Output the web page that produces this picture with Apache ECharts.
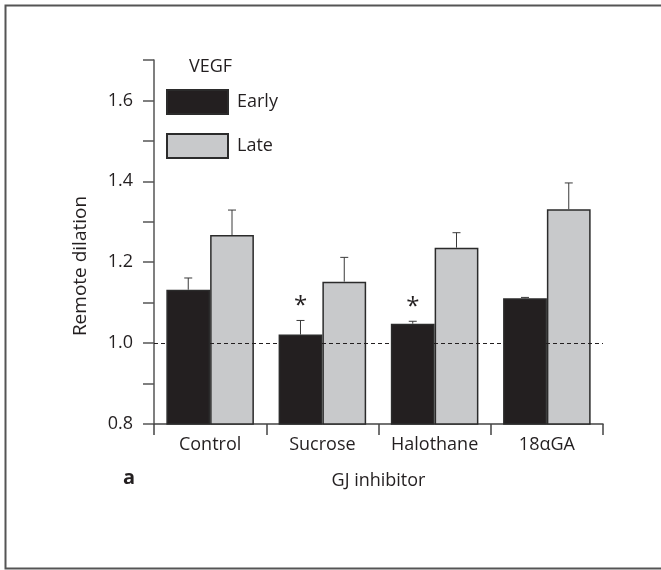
<!DOCTYPE html>
<html>
<head>
<meta charset="utf-8">
<script src="https://cdn.jsdelivr.net/npm/echarts@6/dist/echarts.min.js"></script>
<style>
html,body{margin:0;padding:0;background:#fff;}
#chart{width:661px;height:570px;}
</style>
</head>
<body>
<div id="chart"></div>
<script>
const categories = ['Control', 'Sucrose', 'Halothane', '18\u03b1GA'];
const earlyValues = [1.132, 1.021, 1.048, 1.111];
const earlyErrTop = [1.161, 1.056, 1.054, 1.113];
const lateValues = [1.267, 1.152, 1.236, 1.331];
const lateErrTop = [1.329, 1.212, 1.273, 1.396];
const earlySig = ['', '*', '*', ''];
const lateSig = ['', '', '', ''];
const yTicks = [0.8, 1.0, 1.2, 1.4, 1.6];
const refValue = 1.0;

const FONT = '"Open Sans", sans-serif';
const TXT = '#231f20';
const GAP = 0.22;

function errRender(sign, sigArr) {
  return function (params, api) {
    const ci = api.value(0);
    const base = api.coord([ci, api.value(1)]);
    const top = api.coord([ci, api.value(2)]);
    const band = api.size([1, 0])[0];
    const barW = band * (1 - GAP) / 2;
    const cx = base[0] + sign * barW / 2;
    const children = [
      {type: 'line', shape: {x1: cx, y1: base[1], x2: cx, y2: top[1]}, style: {stroke: '#3a3a3a', lineWidth: 1}},
      {type: 'line', shape: {x1: cx - 4, y1: top[1], x2: cx + 4, y2: top[1]}, style: {stroke: '#3a3a3a', lineWidth: 1}}
    ];
    const s = sigArr[params.dataIndex];
    if (s) {
      children.push({type: 'text', x: cx, y: top[1] - 2,
        style: {text: s, fill: TXT, font: '24px ' + FONT, textAlign: 'center', textVerticalAlign: 'bottom'}});
    }
    return {type: 'group', children: children};
  };
}

const chart = echarts.init(document.getElementById('chart'), null, {renderer: 'canvas'});
chart.setOption({
  animation: false,
  backgroundColor: '#fff',
  textStyle: {fontFamily: FONT, color: TXT},
  grid: {left: 154, right: 58, top: 60, bottom: 146, containLabel: false},
  legend: {
    data: [{name: 'Early', icon: 'rect'}, {name: 'Late', icon: 'rect'}],
    orient: 'vertical', left: 166, top: 89,
    itemWidth: 61, itemHeight: 24, itemGap: 18, padding: 0,
    textStyle: {fontSize: 18, fontFamily: FONT, color: TXT, padding: [0, 0, 0, 4]}
  },
  xAxis: {
    type: 'category', data: categories,
    axisLine: {lineStyle: {color: '#444', width: 1.5}},
    axisTick: {show: true, length: 11, lineStyle: {color: '#444', width: 1.5}},
    axisLabel: {fontSize: 18, fontFamily: FONT, color: TXT, margin: 12, interval: 0},
    name: 'GJ inhibitor', nameLocation: 'middle', nameGap: 48,
    nameTextStyle: {fontSize: 18, fontFamily: FONT, color: TXT}
  },
  yAxis: {
    type: 'value', min: 0.8, max: 1.7, interval: 0.1,
    axisLine: {show: true, lineStyle: {color: '#555', width: 1.5}},
    axisTick: {show: true, length: 11, lineStyle: {color: '#555', width: 1.5}},
    splitLine: {show: false},
    axisLabel: {fontSize: 18, fontFamily: FONT, color: TXT, margin: 21,
      formatter: function (v) {
        const k = Math.round(v * 10) / 10;
        return yTicks.some(t => Math.abs(t - k) < 1e-6) ? k.toFixed(1) : '';
      }}
  },
  graphic: [
    {type: 'rect', shape: {x: 5.5, y: 5.5, width: 700, height: 563}, style: {fill: 'none', stroke: '#555', lineWidth: 2}, z: 100},
    {type: 'text', x: 189, y: 67, style: {text: 'VEGF', font: '18px ' + FONT, fill: TXT, textVerticalAlign: 'middle'}},
    {type: 'text', x: 81, y: 266, rotation: Math.PI / 2,
      style: {text: 'Remote dilation', font: '19px ' + FONT, fill: TXT, textAlign: 'center', textVerticalAlign: 'middle'}},
    {type: 'text', x: 123, y: 478, style: {text: 'a', font: 'bold 20px ' + FONT, fill: TXT, textVerticalAlign: 'middle'}}
  ],
  series: [
    {
      name: 'Early', type: 'bar', data: earlyValues, barGap: '0%', barCategoryGap: (GAP * 100) + '%',
      itemStyle: {color: '#231f20', borderColor: '#2b2b2b', borderWidth: 1.5}
    },
    {
      name: 'Late', type: 'bar', data: lateValues, barGap: '0%', barCategoryGap: (GAP * 100) + '%',
      itemStyle: {color: '#c8c9cb', borderColor: '#2b2b2b', borderWidth: 1.5},
      markLine: {
        silent: true, symbol: 'none', z: 10,
        label: {show: false},
        lineStyle: {color: TXT, type: [4, 3], width: 1},
        data: [{yAxis: refValue}]
      }
    },
    {
      type: 'custom', renderItem: errRender(-1, earlySig), z: 5,
      data: earlyValues.map((v, i) => [i, v, earlyErrTop[i]]),
      encode: {x: 0, y: [1, 2]}
    },
    {
      type: 'custom', renderItem: errRender(1, lateSig), z: 5,
      data: lateValues.map((v, i) => [i, v, lateErrTop[i]]),
      encode: {x: 0, y: [1, 2]}
    }
  ]
});
</script>
</body>
</html>
